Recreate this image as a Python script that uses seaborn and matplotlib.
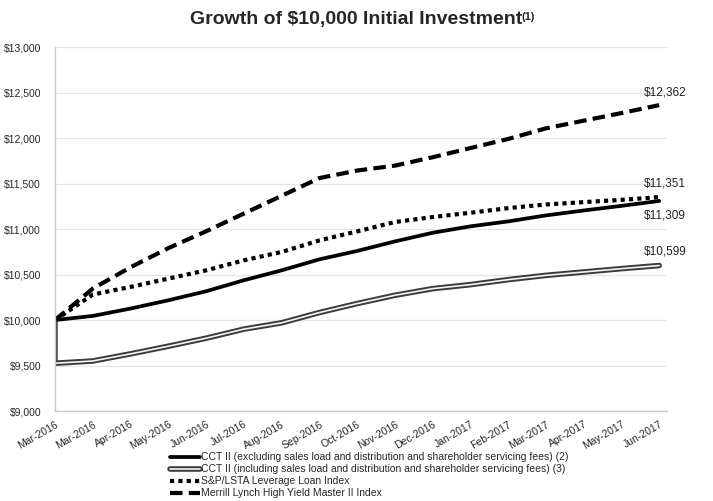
import numpy as np
import pandas as pd
import matplotlib
matplotlib.use("Agg")
import matplotlib.pyplot as plt
import matplotlib.patheffects as pe
import seaborn as sns

# ── Datos ─────────────────────────────────────────────────────────────────────
MESES = ["Mar-2016", "Mar-2016", "Apr-2016", "May-2016", "Jun-2016", "Jul-2016",
         "Aug-2016", "Sep-2016", "Oct-2016", "Nov-2016", "Dec-2016", "Jan-2017",
         "Feb-2017", "Mar-2017", "Apr-2017", "May-2017", "Jun-2017"]

cct_excl = [10000, 10045, 10126, 10217, 10316, 10437, 10546, 10667, 10759,
            10864, 10959, 11030, 11084, 11150, 11204, 11255, 11309]
# la serie con comisiones arranca en 10.000 y cae al cargo inicial en el mismo mes
cct_incl_x = [0, 0, 1, 2, 3, 4, 5, 6, 7, 8, 9, 10, 11, 12, 13, 14, 15, 16]
cct_incl = [10000, 9525, 9550, 9628, 9712, 9800, 9900, 9969, 10082, 10181,
            10272, 10345, 10389, 10444, 10491, 10528, 10565, 10599]
sp_lsta = [10000, 10280, 10364, 10455, 10546, 10656, 10748, 10875, 10974,
           11077, 11132, 11179, 11230, 11270, 11296, 11321, 11351]
merrill = [10000, 10345, 10580, 10790, 10975, 11170, 11365, 11560, 11643,
           11697, 11789, 11890, 11990, 12107, 12191, 12275, 12362]

NOMBRES = ["CCT II (excluding sales load and distribution and shareholder servicing fees) (2)",
           "CCT II (including sales load and distribution and shareholder servicing fees) (3)",
           "S&P/LSTA Leverage Loan Index",
           "Merrill Lynch High Yield Master II Index"]
FUENTE = ["Liberation Sans", "DejaVu Sans"]

# ── Figura ────────────────────────────────────────────────────────────────────
sns.set_style("white")
plt.rcParams["font.family"] = FUENTE

fig = plt.figure(figsize=(7.13, 5.01), dpi=100)
ax = fig.add_axes([0.0771, 0.1796, 0.858, 0.7264])

idx = np.arange(len(MESES))
sns.lineplot(x=idx, y=cct_excl, ax=ax, color="black", lw=2.7,
             estimator=None, sort=False, label=NOMBRES[0])
sns.lineplot(x=cct_incl_x, y=cct_incl, ax=ax, color="#f4f4f4", lw=1.2,
             estimator=None, sort=False, label=NOMBRES[1],
             path_effects=[pe.Stroke(linewidth=4.0, foreground="#3c3c3c"), pe.Normal()])
sns.lineplot(x=idx, y=sp_lsta, ax=ax, color="black", lw=3.0,
             estimator=None, sort=False, label=NOMBRES[2])
sns.lineplot(x=idx, y=merrill, ax=ax, color="black", lw=3.0,
             estimator=None, sort=False, label=NOMBRES[3])
lineas = ax.get_lines()
lineas[2].set_linestyle((0, (1, 1)))
lineas[3].set_linestyle((0, (3, 1.5)))

ax.set_xlim(0, 16.2)
ax.set_ylim(9000, 13000)
ticks_y = np.arange(9000, 13001, 500)
ax.set_yticks(ticks_y)
ax.set_yticklabels([f"${v:,.0f}" for v in ticks_y], fontsize=7.5)
ax.set_xticks(idx)
ax.set_xticklabels(MESES, rotation=30, ha="right", rotation_mode="anchor", fontsize=7.5)
ax.grid(axis="y", color="#e6e6e6", lw=0.9)
for s in ["top", "right"]:
    ax.spines[s].set_visible(False)
for s in ["left", "bottom"]:
    ax.spines[s].set_color("#c8c8c8")
    ax.spines[s].set_linewidth(1.0)
ax.tick_params(axis="both", length=3, color="#c8c8c8", direction="out", pad=3)
ax.tick_params(axis="y", pad=7)

# etiquetas finales (desplazamientos en píxeles)
finales = [(merrill[-1], 13), (sp_lsta[-1], 14), (cct_excl[-1], -15), (cct_incl[-1], 14)]
for val, dy in finales:
    ax.annotate(f"${val:,.0f}", xy=(16, val), xytext=(6, dy), textcoords="offset pixels",
                ha="center", va="center", fontsize=8.5, color="#222222", annotation_clip=False)

leg = ax.legend(loc="upper left", bbox_to_anchor=(165 / 713, 1 - 447 / 501),
                bbox_transform=fig.transFigure, frameon=False, fontsize=7.5,
                handlelength=2.9, handletextpad=0.1, labelspacing=0.2, borderpad=0)

# título con superíndice
t = fig.text(0.5, 0.962, "Growth of $10,000 Initial Investment", ha="center", va="center",
             fontsize=14, fontweight="bold", family=["Liberation Sans Narrow"] + FUENTE)
fig.canvas.draw()
bb = t.get_window_extent()
fig.text(bb.x1 / fig.bbox.width - 0.001, bb.y1 / fig.bbox.height - 0.002, "(1)",
         ha="left", va="top", fontsize=8, fontweight="bold",
         family=["Liberation Sans Narrow"] + FUENTE)

fig.savefig("out.png", dpi=100)
